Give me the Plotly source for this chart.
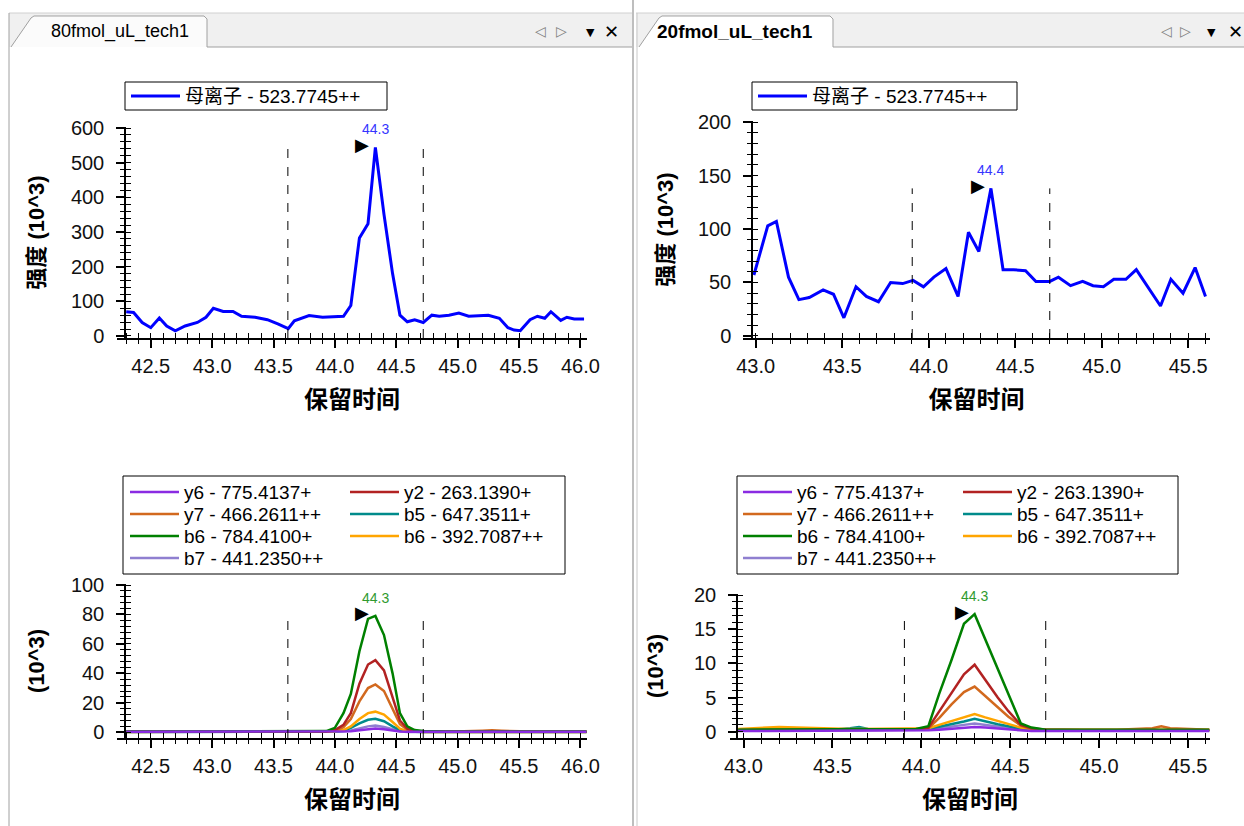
import plotly.graph_objects as go

W, H = 1244, 826
FONT = "Liberation Sans, Arial, Noto Sans CJK SC"


def px(x):
    return x / W


def py(y):
    return 1 - y / H


# ---------------- data ----------------
PANEL_TITLES = ["80fmol_uL_tech1", "20fmol_uL_tech1"]
PRECURSOR_NAME = "母离子 - 523.7745++"
X_TITLE = "保留时间"
Y_TITLE_TOP = "强度 (10^3)"
Y_TITLE_BOTTOM = "(10^3)"

# top-left precursor trace (80 fmol)
TL_T = [42.30, 42.36, 42.43, 42.50, 42.57, 42.63, 42.70, 42.78, 42.88, 42.95,
        43.01, 43.09, 43.17, 43.24, 43.35, 43.45, 43.54, 43.62, 43.67, 43.79,
        43.90, 44.00, 44.07, 44.13, 44.20, 44.27, 44.33, 44.40, 44.47, 44.53,
        44.59, 44.65, 44.72, 44.79, 44.85, 44.93, 45.01, 45.09, 45.16, 45.25,
        45.34, 45.41, 45.46, 45.51, 45.59, 45.65, 45.71, 45.76, 45.84, 45.89,
        45.95, 46.03]
TL_V = [70, 68, 39, 24, 52, 29, 15, 29, 39, 54,
        80, 71, 71, 57, 54, 47, 34, 21, 44, 59,
        54, 57, 57, 88, 283, 324, 544, 351, 180, 60,
        41, 47, 39, 60, 57, 60, 66, 57, 59, 60,
        51, 24, 17, 15, 47, 57, 51, 70, 45, 54,
        49, 49]

# top-right precursor trace (20 fmol)
TR_T = [42.99, 43.07, 43.12, 43.19, 43.25, 43.31, 43.39, 43.45, 43.51, 43.58,
        43.64, 43.71, 43.78, 43.85, 43.91, 43.97, 44.03, 44.10, 44.17, 44.23,
        44.29, 44.36, 44.43, 44.49, 44.56, 44.62, 44.70, 44.75, 44.82, 44.89,
        44.95, 45.01, 45.07, 45.14, 45.20, 45.27, 45.34, 45.40, 45.47, 45.54,
        45.60]
TR_V = [57, 103, 107, 55, 34, 36, 43, 39, 17, 46,
        37, 32, 50, 49, 52, 46, 55, 63, 37, 97,
        79, 138, 62, 62, 61, 51, 51, 55, 47, 51,
        47, 46, 53, 53, 62, 45, 28, 53, 40, 64,
        37]

# integration boundaries
BOUNDS_LEFT = [43.617, 44.72]
BOUNDS_RIGHT = [43.905, 44.70]

FRAG_NAMES = ["y6 - 775.4137+", "y2 - 263.1390+", "y7 - 466.2611++",
              "b5 - 647.3511+", "b6 - 784.4100+", "b6 - 392.7087++",
              "b7 - 441.2350++"]
FRAG_COLORS = ["#8a2be2", "#b22222", "#d2691e", "#008b8b", "#008000",
               "#ffa500", "#8f7fd0"]

# bottom-left fragments (80 fmol)
BL_T = [42.30, 42.60, 43.00, 43.40, 43.80, 43.93, 44.00, 44.07, 44.13, 44.20,
        44.27, 44.33, 44.40, 44.47, 44.53, 44.59, 44.65, 44.72, 44.90, 45.20,
        45.28, 45.36, 45.70, 46.05]
BL_Y6 = [0.3, 0.3, 0.3, 0.3, 0.3, 0.3, 0.3, 0.4, 0.7, 1.3,
         2.2, 2.5, 2.0, 1.1, 0.5, 0.3, 0.3, 0.3, 0.3, 0.3,
         0.3, 0.3, 0.3, 0.3]
BL_Y2 = [0.3, 0.3, 0.3, 0.3, 0.3, 0.4, 1.5, 5, 13, 33,
         46, 49, 42, 24, 8, 2.5, 0.8, 0.4, 0.3, 0.3,
         0.3, 0.3, 0.3, 0.3]
BL_Y7 = [0.3, 0.3, 0.3, 0.3, 0.3, 0.4, 1.0, 3.5, 9, 21,
         30, 32.5, 28, 16, 5.5, 1.8, 0.6, 0.3, 0.3, 1.0,
         1.3, 1.0, 0.3, 0.3]
BL_B5 = [0.2, 0.2, 0.2, 0.2, 0.2, 0.2, 0.5, 1.0, 3, 6,
         8.5, 9.2, 7.5, 4, 1.5, 0.5, 0.2, 0.2, 0.2, 0.2,
         0.2, 0.2, 0.2, 0.2]
BL_B6A = [0.5, 0.5, 0.5, 0.5, 0.5, 0.8, 3, 13, 26, 55,
          77, 79, 66, 40, 13, 4, 1.5, 0.8, 0.5, 0.5,
          0.5, 0.5, 0.5, 0.5]
BL_B6B = [0.2, 0.2, 0.2, 0.2, 0.2, 0.3, 0.6, 1.5, 4, 9,
          13, 14, 12, 7, 2.5, 0.8, 0.3, 0.2, 0.2, 0.2,
          0.2, 0.2, 0.2, 0.2]
BL_B7 = [0.1, 0.1, 0.1, 0.1, 0.1, 0.1, 0.2, 0.5, 1.2, 2.8,
         4.0, 4.5, 3.6, 2.0, 0.7, 0.2, 0.1, 0.1, 0.1, 0.1,
         0.1, 0.1, 0.1, 0.1]

# bottom-right fragments (20 fmol)
BR_T = [42.97, 43.10, 43.20, 43.30, 43.50, 43.60, 43.65, 43.70, 43.85, 43.97,
        44.04, 44.10, 44.17, 44.24, 44.30, 44.36, 44.43, 44.49, 44.56, 44.62,
        44.70, 44.90, 45.10, 45.30, 45.35, 45.40, 45.62]
BR_Y6 = [0.1, 0.1, 0.1, 0.1, 0.1, 0.1, 0.1, 0.1, 0.1, 0.1,
         0.2, 0.3, 0.45, 0.6, 0.7, 0.6, 0.45, 0.3, 0.2, 0.1,
         0.1, 0.1, 0.1, 0.1, 0.1, 0.1, 0.1]
BR_Y2 = [0.2, 0.2, 0.2, 0.2, 0.2, 0.2, 0.2, 0.2, 0.2, 0.3,
         0.6, 3.0, 5.8, 8.4, 9.8, 7.6, 5.0, 3.0, 1.0, 0.5,
         0.3, 0.2, 0.2, 0.2, 0.2, 0.2, 0.2]
BR_Y7 = [0.3, 0.3, 0.4, 0.3, 0.3, 0.3, 0.3, 0.3, 0.3, 0.3,
         0.5, 2.0, 4.0, 5.8, 6.6, 5.2, 3.5, 2.2, 0.9, 0.4,
         0.3, 0.3, 0.3, 0.5, 0.8, 0.5, 0.3]
BR_B5 = [0.3, 0.3, 0.3, 0.3, 0.3, 0.5, 0.7, 0.4, 0.3, 0.3,
         0.4, 0.7, 1.1, 1.5, 1.9, 1.5, 1.1, 0.8, 0.4, 0.3,
         0.2, 0.2, 0.2, 0.2, 0.2, 0.2, 0.2]
BR_B6A = [0.3, 0.3, 0.3, 0.3, 0.3, 0.3, 0.3, 0.3, 0.3, 0.4,
          0.8, 5.5, 10.5, 15.8, 17.2, 13.5, 9.2, 5.5, 1.2, 0.6,
          0.3, 0.3, 0.3, 0.3, 0.3, 0.3, 0.3]
BR_B6B = [0.4, 0.6, 0.7, 0.6, 0.4, 0.4, 0.4, 0.4, 0.4, 0.4,
          0.5, 1.0, 1.6, 2.1, 2.6, 2.1, 1.6, 1.1, 0.6, 0.4,
          0.3, 0.3, 0.3, 0.3, 0.3, 0.3, 0.3]
BR_B7 = [0.2, 0.2, 0.2, 0.2, 0.2, 0.2, 0.2, 0.2, 0.2, 0.2,
         0.3, 0.5, 0.8, 1.0, 1.2, 1.0, 0.8, 0.5, 0.3, 0.2,
         0.2, 0.2, 0.2, 0.2, 0.2, 0.2, 0.2]

BL_SERIES = [BL_Y6, BL_Y2, BL_Y7, BL_B5, BL_B6A, BL_B6B, BL_B7]
BR_SERIES = [BR_Y6, BR_Y2, BR_Y7, BR_B5, BR_B6A, BR_B6B, BR_B7]

# ---------------- layout geometry (pixels) ----------------
# xd: x-axis line extent (px); yx: pixel x of the y axis; xr: time range over xd
PLOTS = {
    "TL": dict(xd=(117, 587), yx=125, yd=(127, 338), xr=(42.225, 46.054), yr=(-5.8, 603),
               ydt=100, ymin=20, x0=42.5, ystand=19),
    "TR": dict(xd=(743, 1210), yx=752, yd=(121, 338), xr=(42.927, 45.626), yr=(-1.9, 201),
               ydt=50, ymin=10, x0=43.0, ystand=17),
    "BL": dict(xd=(117, 587), yx=125, yd=(584, 738), xr=(42.225, 46.054), yr=(-3.9, 100.7),
               ydt=20, ymin=4, x0=42.5, ystand=19),
    "BR": dict(xd=(730, 1210), yx=737, yd=(594, 738), xr=(42.924, 45.624), yr=(-0.92, 20.15),
               ydt=5, ymin=1, x0=43.0, ystand=23),
}
AXIS_IDS = {"TL": 1, "TR": 2, "BL": 3, "BR": 4}


def aid(n, letter):
    return letter if n == 1 else f"{letter}{n}"


fig = go.Figure()
layout = dict(
    width=W, height=H, margin=dict(l=0, r=0, t=0, b=0),
    paper_bgcolor="white", plot_bgcolor="rgba(0,0,0,0)", showlegend=True,
    font=dict(family=FONT, color="black"),
)

tick_font = dict(family=FONT, size=20, color="#111111")
title_font = dict(family=FONT, size=22, color="black")

# extra axis pairs sharing each panel's area: A = small ticks inside, B = small ticks outside
OVL = {"TL": (5, 9), "TR": (6, 10), "BL": (7, 11), "BR": (8, 12)}

for key, p in PLOTS.items():
    n = AXIS_IDS[key]
    xa, ya = aid(n, "x"), aid(n, "y")
    xdom = [px(p["xd"][0]), px(p["xd"][1])]
    ydom = [py(p["yd"][1]), py(p["yd"][0])]
    ytitle = Y_TITLE_TOP if key in ("TL", "TR") else Y_TITLE_BOTTOM
    layout["xaxis" if n == 1 else f"xaxis{n}"] = dict(
        domain=xdom, anchor=ya, range=list(p["xr"]),
        showline=True, linecolor="black", linewidth=1.5, showgrid=False, zeroline=False,
        ticks="outside", ticklen=8, tickwidth=1.5, tickcolor="black",
        tick0=p["x0"], dtick=0.5, tickformat=".1f", tickfont=tick_font,
        ticklabelstandoff=1,
        title=dict(text=f"<b>{X_TITLE}</b>", font=dict(family=FONT, size=24, color="black"),
                   standoff=15),
        automargin=False, fixedrange=True,
    )
    layout["yaxis" if n == 1 else f"yaxis{n}"] = dict(
        domain=ydom, anchor="free", position=px(p["yx"]),
        side="left", range=list(p["yr"]),
        showline=True, linecolor="black", linewidth=1.5, showgrid=False, zeroline=False,
        ticks="outside", ticklen=8, tickwidth=1.5, tickcolor="black",
        tick0=0, dtick=p["ydt"], tickfont=tick_font, ticklabelstandoff=8,
        title=dict(text=f"<b>{ytitle}</b>", font=title_font, standoff=p["ystand"]),
        automargin=False, fixedrange=True,
    )
    for k, side in zip(OVL[key], ("inside", "outside")):
        layout[f"xaxis{k}"] = dict(
            domain=xdom, anchor=f"y{k}", side="bottom", range=list(p["xr"]),
            showline=False, showgrid=False, zeroline=False, showticklabels=False,
            ticks=side, ticklen=5, tickwidth=1, tickcolor="black",
            tick0=p["x0"], dtick=0.1, automargin=False, fixedrange=True,
        )
        layout[f"yaxis{k}"] = dict(
            domain=ydom, anchor="free", position=px(p["yx"]), side="left",
            range=list(p["yr"]), showline=False,
            showgrid=False, zeroline=False, showticklabels=False,
            ticks=side, ticklen=5, tickwidth=1, tickcolor="black",
            tick0=0, dtick=p["ymin"], automargin=False, fixedrange=True,
        )

LEG_FS = 19
ITEM_H = 1.3 * LEG_FS + 3
ITEMW = 49


def legend_cfg(x_px, center_y_px, entry=True):
    d = dict(
        x=px(x_px), y=py(center_y_px - (ITEM_H / 2 + 5)), xanchor="left", yanchor="top",
        orientation="h", bgcolor="rgba(0,0,0,0)", borderwidth=0,
        font=dict(family=FONT, size=LEG_FS, color="black"),
        itemwidth=ITEMW, traceorder="normal",
    )
    if entry:
        d.update(entrywidth=220 - (ITEMW + 10) - 5, entrywidthmode="pixels")
    return d


layout["legend"] = legend_cfg(126, 96, entry=False)
layout["legend2"] = legend_cfg(753, 96, entry=False)
for r in range(4):
    layout[f"legend{3 + r}"] = legend_cfg(125, 492 + 22 * r)
    layout[f"legend{7 + r}"] = legend_cfg(738, 492 + 22 * r)

# ---------------- traces ----------------
fig.add_trace(go.Scatter(x=TL_T, y=TL_V, mode="lines", name=PRECURSOR_NAME,
                         line=dict(color="#0000ff", width=3), xaxis="x", yaxis="y",
                         legend="legend"))
fig.add_trace(go.Scatter(x=TR_T, y=TR_V, mode="lines", name=PRECURSOR_NAME,
                         line=dict(color="#0000ff", width=3), xaxis="x2", yaxis="y2",
                         legend="legend2"))

DRAW_ORDER = [6, 3, 5, 2, 1, 4, 0]
for key, times, series, leg0 in (("BL", BL_T, BL_SERIES, 3), ("BR", BR_T, BR_SERIES, 7)):
    n = AXIS_IDS[key]
    for i in DRAW_ORDER:
        fig.add_trace(go.Scatter(
            x=times, y=series[i], mode="lines", name=FRAG_NAMES[i],
            line=dict(color=FRAG_COLORS[i], width=2.5),
            xaxis=f"x{n}", yaxis=f"y{n}", legend=f"legend{leg0 + i // 2}",
            legendrank=i + 1,
        ))

# integration boundary markers (dashed) up to the tallest peak height,
# each placed on one of the extra axis pairs (identical ranges and domains)
PANEL_DATA = {
    "TL": (BOUNDS_LEFT, [TL_V]),
    "TR": (BOUNDS_RIGHT, [TR_V]),
    "BL": (BOUNDS_LEFT, BL_SERIES),
    "BR": (BOUNDS_RIGHT, BR_SERIES),
}
for key, (bounds, sers) in PANEL_DATA.items():
    top = max(max(s) for s in sers)
    for b, k in zip(bounds, OVL[key]):
        fig.add_trace(go.Scatter(x=[b, b], y=[PLOTS[key]["yr"][0], top], mode="lines",
                                 line=dict(color="black", width=1, dash="dash"),
                                 showlegend=False, hoverinfo="skip",
                                 xaxis=f"x{k}", yaxis=f"y{k}"))

# ---------------- annotations ----------------
annotations = []


def peak_marks(times, vals, xa, ya, color):
    i = max(range(len(vals)), key=lambda k: vals[k])
    annotations.append(dict(x=times[i], y=vals[i], xref=xa, yref=ya, text=f"{times[i]:.1f}",
                            showarrow=False, xanchor="center", yanchor="bottom", yshift=8,
                            font=dict(family=FONT, size=14, color=color)))
    annotations.append(dict(x=times[i], y=vals[i], xref=xa, yref=ya, text="▶",
                            showarrow=False, xanchor="right", yanchor="middle",
                            xshift=-4, yshift=3,
                            font=dict(family="DejaVu Sans", size=18, color="black")))


peak_marks(TL_T, TL_V, "x", "y", "#3535ff")
peak_marks(TR_T, TR_V, "x2", "y2", "#3535ff")
ig = FRAG_NAMES.index("b6 - 784.4100+")
peak_marks(BL_T, BL_SERIES[ig], "x3", "y3", "#2f9a2f")
peak_marks(BR_T, BR_SERIES[ig], "x4", "y4", "#2f9a2f")


def label(x, y, text, size, color="black", family=FONT):
    annotations.append(dict(x=px(x), y=py(y), xref="paper", yref="paper", text=text,
                            showarrow=False, xanchor="center", yanchor="middle",
                            font=dict(family=family, size=size, color=color)))


label(120, 32, PANEL_TITLES[0], 18)
label(735, 32, f"<b>{PANEL_TITLES[1]}</b>", 19)
for xs in ((540, 561, 590, 611), (1166, 1185, 1211, 1235)):
    label(xs[0], 31, "◁", 14, "#808080", "DejaVu Sans")
    label(xs[1], 31, "▷", 14, "#808080", "DejaVu Sans")
    label(xs[2], 33, "▼", 11, "black", "DejaVu Sans")
    label(xs[3], 31, "✕", 18, "black", "DejaVu Sans")
layout["annotations"] = annotations

# ---------------- frame shapes ----------------
shapes = []


def rect(x0, y0, x1, y1, fill=None, line=None, lw=1):
    shapes.append(dict(type="rect", xref="paper", yref="paper",
                       x0=px(x0), x1=px(x1), y0=py(y1), y1=py(y0),
                       fillcolor=fill or "rgba(0,0,0,0)",
                       line=dict(color=line or "rgba(0,0,0,0)", width=lw if line else 0),
                       layer="below"))


def seg(x0, y0, x1, y1, color="#a0a0a0", lw=1):
    shapes.append(dict(type="line", xref="paper", yref="paper",
                       x0=px(x0), x1=px(x1), y0=py(y0), y1=py(y1),
                       line=dict(color=color, width=lw)))


def path(points, fill, color):
    d = "M " + " L ".join(f"{px(a):.5f},{py(b):.5f}" for a, b in points)
    shapes.append(dict(type="path", xref="paper", yref="paper", path=d,
                       fillcolor=fill, line=dict(color=color, width=1), layer="below"))


rect(9, 13, 632, 47, fill="#f0f0f0")
rect(636, 13, 1244, 47, fill="#f0f0f0")
seg(9, 13, 632, 13, "#d0d0d0")
seg(636, 13, 1244, 13, "#d0d0d0")
path([(11, 47), (31, 18), (34, 16), (204, 16), (207, 19), (207, 47)], "#fbfbfb", "#a0a0a0")
path([(639, 47), (659, 18), (662, 16), (830, 16), (833, 19), (833, 47)], "#ffffff", "#a0a0a0")
seg(207, 47, 632, 47)
seg(833, 47, 1244, 47)
seg(9, 13, 9, 826)
seg(633, 0, 633, 826, "#a8a8a8", 1.5)
seg(637, 13, 637, 826, "#c8c8c8")
rect(125, 82, 387, 110, line="black", lw=1)
rect(752, 82, 1017, 110, line="black", lw=1)
rect(123, 476, 565, 574, line="black", lw=1)
rect(737, 476, 1178, 574, line="black", lw=1)
layout["shapes"] = shapes

fig.update_layout(**layout)
fig.write_html("out.html", include_plotlyjs=True, config={"displayModeBar": False},
               post_script="document.body.style.margin='0px';document.body.style.overflow='hidden';")
